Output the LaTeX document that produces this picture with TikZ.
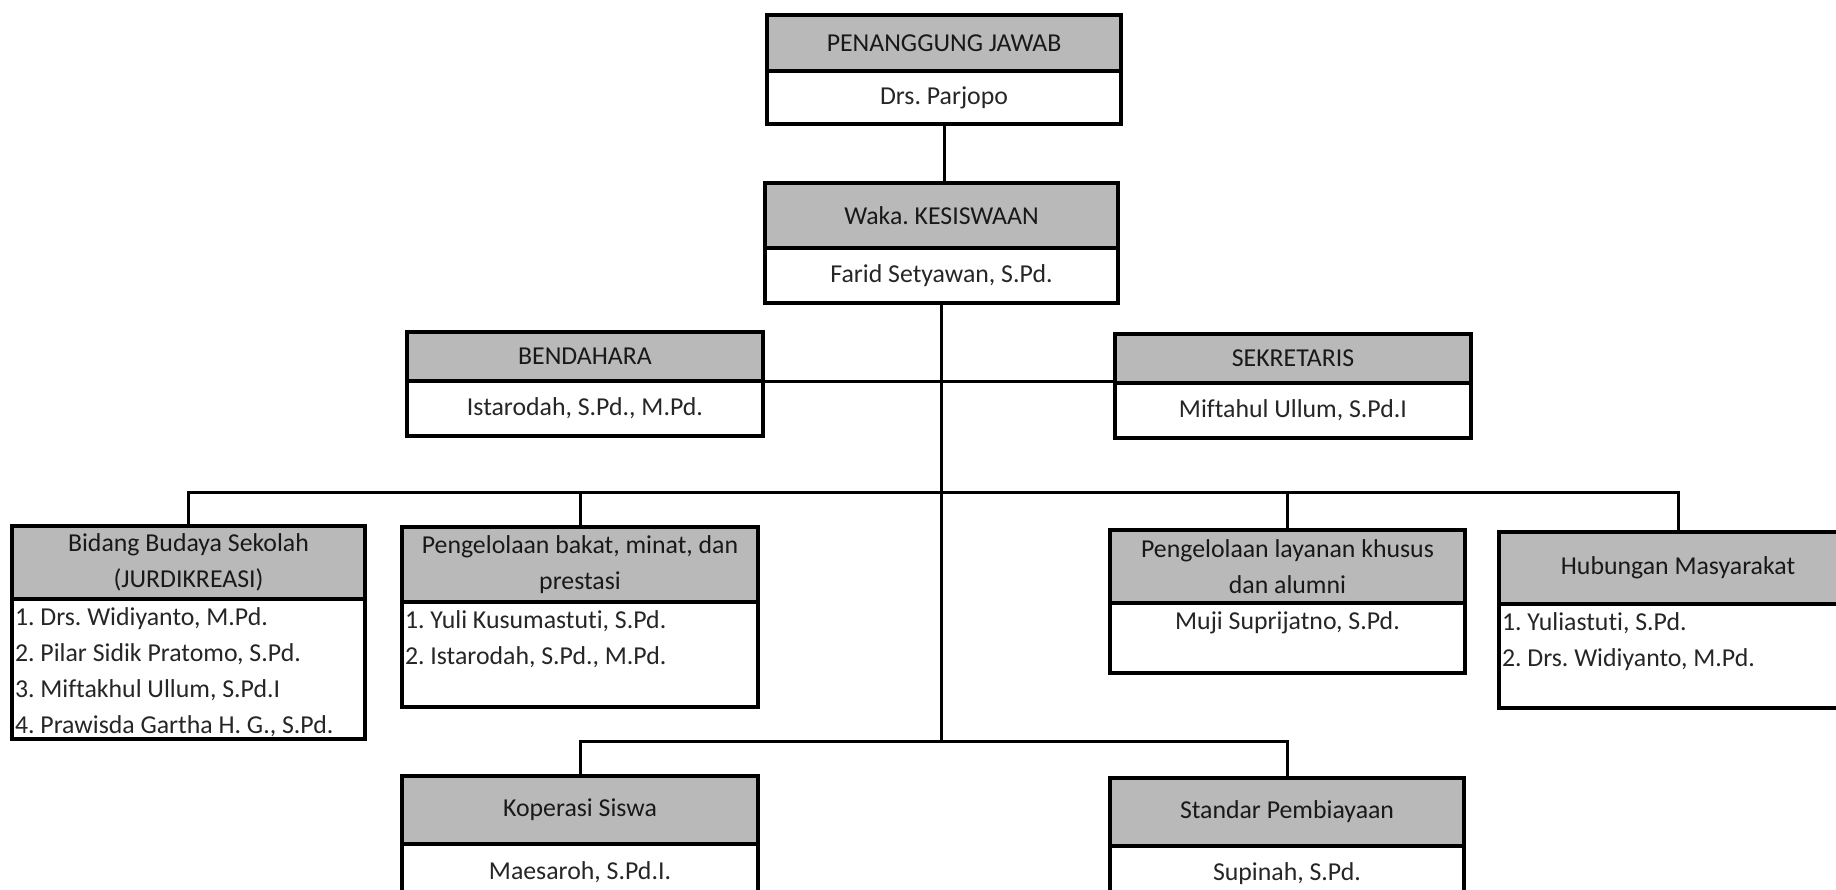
\documentclass[tikz,border=0pt]{standalone}
\usepackage{fontspec}
\setmainfont{Carlito}[Ligatures=NoCommon]
\frenchspacing

\newcommand{\orgfont}{\fontsize{12.9}{18}\selectfont}
\newcommand{\orgcell}[4]{\parbox[c][#2][#3]{#1}{#4}}
\newcommand{\orglist}[3]{\orgcell{#1}{#2}{t}{\raggedright\leftskip=1.5pt\rule{0pt}{13pt}#3}}

\tikzset{
    head/.style={draw, line width=1.7pt, fill=gray!55, text=black!90, anchor=north west,
                 inner sep=0pt, outer sep=0pt, align=center, font=\orgfont},
    body/.style={draw, line width=1.7pt, fill=white, text=black!85, anchor=north,
                 inner sep=0pt, outer sep=0pt, font=\orgfont},
    link/.style={line width=1.5pt},
}

\begin{document}
\begin{tikzpicture}[x=0.5pt, y=-0.5pt]
    \clip (0,0) rectangle (1836,889);
    \fill[white] (0,0) rectangle (1836,889);

    \node[head, minimum width=177pt, minimum height=28pt] (pjH) at (767,15) {PENANGGUNG JAWAB};
    \node[body] (pjB) at (pjH.south) {\orgcell{177pt}{26.5pt}{c}{\centering Drs. Parjopo}};

    \node[head, minimum width=176.5pt, minimum height=32.5pt] (wkH) at (765,183) {Waka. KESISWAAN};
    \node[body] (wkB) at (wkH.south) {\orgcell{176.5pt}{27.5pt}{c}{\centering Farid Setyawan, S.Pd.}};

    \node[head, minimum width=178pt, minimum height=24.5pt] (bdH) at (407,332) {BENDAHARA};
    \node[body] (bdB) at (bdH.south) {\orgcell{178pt}{27.5pt}{c}{\centering Istarodah, S.Pd., M.Pd.}};

    \node[head, minimum width=178pt, minimum height=24.5pt] (skH) at (1115,334) {SEKRETARIS};
    \node[body] (skB) at (skH.south) {\orgcell{178pt}{27.5pt}{c}{\centering Miftahul Ullum, S.Pd.I}};

    \node[head, minimum width=176.5pt, minimum height=36.5pt] (bidH) at (12,526) {Bidang Budaya Sekolah\\(JURDIKREASI)};
    \node[body] (bidB) at (bidH.south) {\orglist{176.5pt}{70pt}{1. Drs. Widiyanto, M.Pd.\\2. Pilar Sidik Pratomo, S.Pd.\\3. Miftakhul Ullum, S.Pd.I\\4. Prawisda Gartha H. G., S.Pd.}};

    \node[head, minimum width=178pt, minimum height=37.5pt] (bakH) at (402,527) {Pengelolaan bakat, minat, dan\\prestasi};
    \node[body] (bakB) at (bakH.south) {\orglist{178pt}{52.5pt}{1. Yuli Kusumastuti, S.Pd.\\2. Istarodah, S.Pd., M.Pd.}};

    \node[head, minimum width=177.5pt, minimum height=36.5pt] (layH) at (1110,530) {Pengelolaan layanan khusus\\dan alumni};
    \node[body] (layB) at (layH.south) {\orgcell{177.5pt}{35pt}{t}{\centering\rule{0pt}{13pt}Muji Suprijatno, S.Pd.}};

    \node[head, minimum width=179pt, minimum height=36pt] (hubH) at (1499,532) {Hubungan Masyarakat};
    \node[body] (hubB) at (hubH.south) {\orglist{179pt}{52pt}{1. Yuliastuti, S.Pd.\\2. Drs. Widiyanto, M.Pd.}};

    \node[head, minimum width=178pt, minimum height=34pt] (kopH) at (402,776) {Koperasi Siswa};
    \node[body] (kopB) at (kopH.south) {\orgcell{178pt}{28pt}{c}{\centering Maesaroh, S.Pd.I.}};

    \node[head, minimum width=177pt, minimum height=34pt] (stdH) at (1110,778) {Standar Pembiayaan};
    \node[body] (stdB) at (stdH.south) {\orgcell{177pt}{28pt}{c}{\centering Supinah, S.Pd.}};

    \coordinate (busA) at (941.5,492);
    \coordinate (busB) at (941.5,741);

    \draw[link] (pjB.south) -- (pjB.south |- wkH.north);
    \draw[link] (wkB.south) -- (busB);
    \draw[link] (bdH.south east) -- (bdH.south east -| skH.west);
    \draw[link] (bidH.north) |- (busA) -| (hubH.north);
    \draw[link] (bakH.north) -- (bakH.north |- busA);
    \draw[link] (layH.north) -- (layH.north |- busA);
    \draw[link] (kopH.north) |- (busB) -| (stdH.north);
\end{tikzpicture}
\end{document}
